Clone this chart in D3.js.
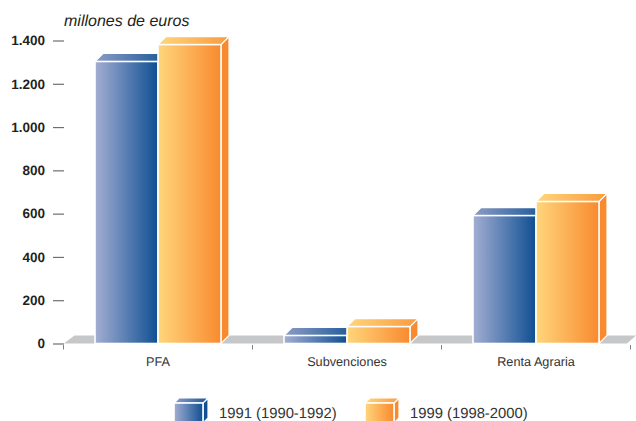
<!DOCTYPE html>
<html>

<head>
    <meta charset="UTF-8">
    <title>millones de euros</title>
    <style>
        body { margin: 0; background: #fff; }
        text { font-family: "Liberation Sans", Arial, sans-serif; text-rendering: geometricPrecision; }
        .domain { display: none; }
    </style>
</head>

<body>

    <svg id="chart"></svg>

    <script src="https://d3js.org/d3.v7.min.js"></script>
    <script>
        const categories = ['PFA', 'Subvenciones', 'Renta Agraria'];
        const series = ['1991 (1990-1992)', '1999 (1998-2000)'];
        const values1991 = [1303, 37, 591];
        const values1999 = [1381, 78, 656];
        const yTicks = [0, 200, 400, 600, 800, 1000, 1200, 1400];
        const yTickLabels = ['0', '200', '400', '600', '800', '1.000', '1.200', '1.400'];

        const width = 636;
        const height = 421;
        const depth = 8;

        const svg = d3.select('#chart')
            .attr('width', width)
            .attr('height', height)
            .style('display', 'block');

        const x = d3.scaleBand().domain(categories).range([63, 630]);
        const xSeries = d3.scaleBand().domain(series).range([32, 158]);
        const y = d3.scaleLinear().domain([0, 1400]).range([343.5, 40.5]);

        // gradients: front faces and lids
        const defs = svg.append('defs');
        function gradient(id, c0, c1) {
            const g = defs.append('linearGradient').attr('id', id);
            g.append('stop').attr('offset', '0%').attr('stop-color', c0);
            g.append('stop').attr('offset', '100%').attr('stop-color', c1);
        }
        gradient('front0', '#a3aed2', '#0f4f93');
        gradient('front1', '#ffd67c', '#f98a2f');
        gradient('top0', '#8c9cc6', '#1c5797');
        gradient('top1', '#ffd67c', '#fa9a3f');
        const sideColor = ['#0f4f93', '#f98a2f'];

        // floor
        const y0 = y(0);
        svg.append('path')
            .attr('d', `M${x.range()[0] + 1},${y0}L${x.range()[0] + 1 + depth * 1.3},${y0 - depth}`
                + `H${x.range()[1] + 6}L${x.range()[1] - 3},${y0}Z`)
            .attr('fill', '#c6c7c9');

        // y axis
        const yAxis = d3.axisLeft(y)
            .tickValues(yTicks)
            .tickFormat((d, i) => yTickLabels[i])
            .tickSize(11)
            .tickPadding(8);
        const gy = svg.append('g').attr('transform', 'translate(64,0)').call(yAxis);
        gy.selectAll('line').attr('stroke', '#6d6e71').attr('stroke-width', 1.2);
        gy.selectAll('text')
            .attr('fill', '#231f20')
            .style('font-size', '13.5px')
            .style('font-weight', 'bold')
            .style('font-family', '"Liberation Sans", Arial, sans-serif');

        // category separators
        svg.append('g')
            .selectAll('line')
            .data(d3.range(categories.length + 1))
            .join('line')
            .attr('x1', d => x.range()[0] + d * x.step() + 0.5)
            .attr('x2', d => x.range()[0] + d * x.step() + 0.5)
            .attr('y1', y0 + 1.5)
            .attr('y2', y0 + 6)
            .attr('stroke', '#808285')
            .attr('stroke-width', 1);

        // category labels
        svg.append('g')
            .selectAll('text')
            .data(categories)
            .join('text')
            .attr('x', d => x(d) + x.bandwidth() / 2 + 0.5)
            .attr('y', 366)
            .attr('text-anchor', 'middle')
            .attr('fill', '#333')
            .style('font-size', '12.7px')
            .text(d => d);

        function box(g, bx, by, w, h, i, d) {
            g.append('path')
                .attr('d', `M${bx + w},${by}l${d},${-d}V${by + h - d}l${-d},${d}Z`)
                .attr('fill', sideColor[i])
                .attr('stroke', '#fff').attr('stroke-width', 1.2);
            g.append('path')
                .attr('d', `M${bx},${by}l${d},${-d}h${w}l${-d},${d}Z`)
                .attr('fill', `url(#top${i})`)
                .attr('stroke', '#fff').attr('stroke-width', 1.2);
            g.append('rect')
                .attr('x', bx).attr('y', by).attr('width', w).attr('height', h)
                .attr('fill', `url(#front${i})`)
                .attr('stroke', '#fff').attr('stroke-width', 1.6);
        }

        // bars
        const bars = svg.append('g');
        categories.forEach((c, k) => {
            [values1991, values1999].forEach((vals, i) => {
                const bx = x(c) + xSeries(series[i]);
                box(bars.append('g'), bx, y(vals[k]), xSeries.bandwidth(), y0 - y(vals[k]), i, depth);
            });
        });

        // unit
        svg.append('text')
            .attr('x', 64)
            .attr('y', 26)
            .attr('fill', '#231f20')
            .style('font-size', '16px')
            .style('font-style', 'italic')
            .text('millones de euros');

        // legend
        const legendX = [174, 365];
        series.forEach((s, i) => {
            const g = svg.append('g');
            box(g, legendX[i], 403, 29, 20, i, 5);
            g.append('text')
                .attr('x', legendX[i] + 45)
                .attr('y', 417.5)
                .attr('fill', '#333')
                .style('font-size', '14.8px')
                .text(s);
        });
    </script>
</body>

</html>
